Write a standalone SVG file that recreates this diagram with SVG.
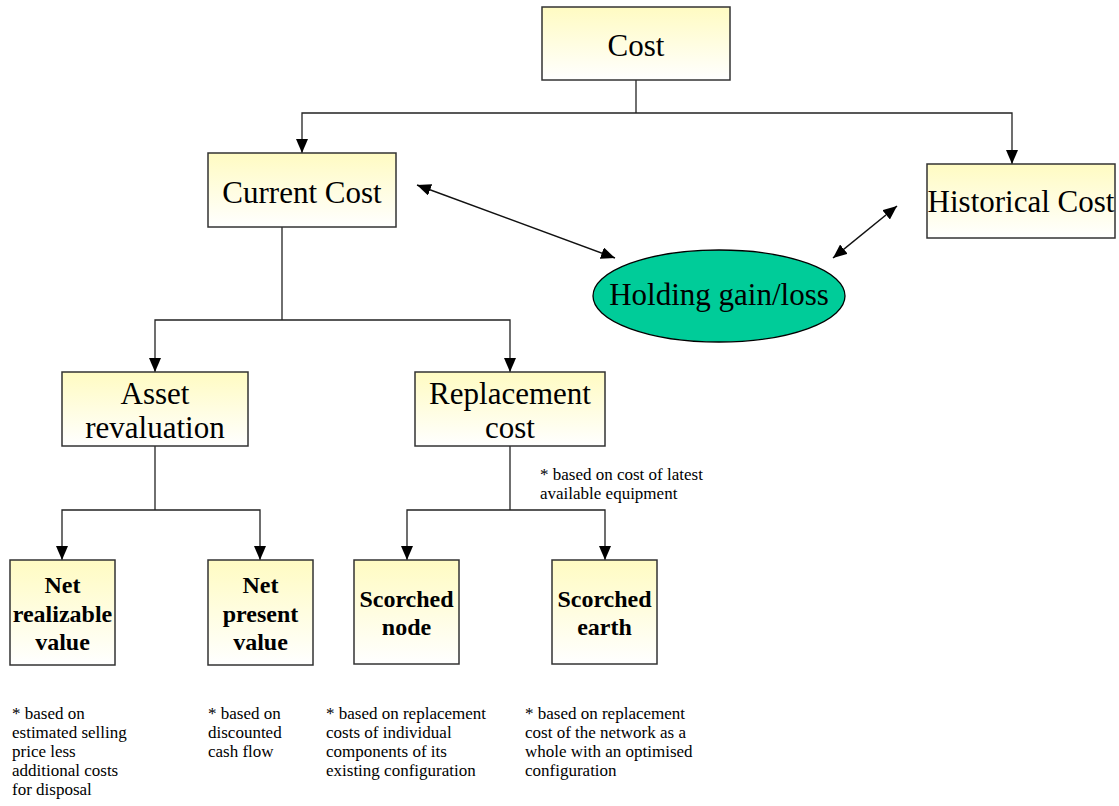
<svg xmlns="http://www.w3.org/2000/svg" width="1119" height="806" viewBox="0 0 1119 806">
<defs>
<linearGradient id="yg" x1="0" y1="0" x2="0" y2="1">
<stop offset="0" stop-color="#FFFBC2"/>
<stop offset="1" stop-color="#FFFFFF"/>
</linearGradient>
<marker id="ah" viewBox="0 0 14 12" refX="14" refY="6" markerWidth="14" markerHeight="12" markerUnits="userSpaceOnUse" orient="auto-start-reverse">
<path d="M0,0 L14,6 L0,12 z" fill="#000"/>
</marker>
<style>
.box{fill:url(#yg);stroke:#333;stroke-width:1.5}
.big{font-family:"Liberation Serif","Times New Roman",serif;font-size:31px;fill:#000;text-anchor:middle}
.bold{font-family:"Liberation Serif","Times New Roman",serif;font-size:24px;font-weight:bold;fill:#000;text-anchor:middle}
.note{font-family:"Liberation Serif","Times New Roman",serif;font-size:17px;fill:#000}
.ln{fill:none;stroke:#222;stroke-width:1.3}
.arr{fill:none;stroke:#222;stroke-width:1.3;marker-end:url(#ah)}
.darr{fill:none;stroke:#111;stroke-width:1.5;marker-start:url(#ah);marker-end:url(#ah)}
</style>
</defs>
<rect width="1119" height="806" fill="#fff"/>
<g id="connectors">
<path class="ln" d="M636,80 V113"/>
<path class="arr" d="M636,113 H302 V153"/>
<path class="arr" d="M636,113 H1012 V164"/>
<path class="ln" d="M282,227 V320"/>
<path class="arr" d="M282,320 H155 V372"/>
<path class="arr" d="M282,320 H510 V372"/>
<path class="ln" d="M155,446 V510"/>
<path class="arr" d="M155,510 H62 V560"/>
<path class="arr" d="M155,510 H260 V560"/>
<path class="ln" d="M510,446 V510"/>
<path class="arr" d="M510,510 H407 V560"/>
<path class="arr" d="M510,510 H605 V560"/>
<path class="darr" d="M417,185 L615,258"/>
<path class="darr" d="M833,258 L897,206"/>
</g>
<g id="cost">
<rect class="box" x="542" y="7" width="188" height="73"/>
<text class="big" x="636" y="56">Cost</text>
</g>
<g id="current-cost">
<rect class="box" x="208" y="153" width="188" height="74"/>
<text class="big" x="302" y="203">Current Cost</text>
</g>
<g id="historical-cost">
<rect class="box" x="927" y="164" width="188" height="74"/>
<text class="big" x="1021" y="212">Historical Cost</text>
</g>
<g id="holding">
<ellipse cx="719" cy="296" rx="126" ry="46" fill="#00CC99" stroke="#000" stroke-width="1.3"/>
<text class="big" x="719" y="305">Holding gain/loss</text>
</g>
<g id="asset-revaluation">
<rect class="box" x="62" y="372" width="186" height="74"/>
<text class="big" x="155" y="404">Asset</text>
<text class="big" x="155" y="438">revaluation</text>
</g>
<g id="replacement-cost">
<rect class="box" x="415" y="372" width="190" height="74"/>
<text class="big" x="510" y="404">Replacement</text>
<text class="big" x="510" y="438">cost</text>
</g>
<g id="replacement-note">
<text class="note" x="540" y="480">* based on cost of latest</text>
<text class="note" x="540" y="499">available equipment</text>
</g>
<g id="net-realizable">
<rect class="box" x="10" y="560" width="105" height="105"/>
<text class="bold" x="62.5" y="593">Net</text>
<text class="bold" x="62.5" y="622">realizable</text>
<text class="bold" x="62.5" y="650">value</text>
</g>
<g id="net-present">
<rect class="box" x="208" y="560" width="105" height="105"/>
<text class="bold" x="260.5" y="593">Net</text>
<text class="bold" x="260.5" y="622">present</text>
<text class="bold" x="260.5" y="650">value</text>
</g>
<g id="scorched-node">
<rect class="box" x="354" y="560" width="105" height="104"/>
<text class="bold" x="406.5" y="607">Scorched</text>
<text class="bold" x="406.5" y="635">node</text>
</g>
<g id="scorched-earth">
<rect class="box" x="552" y="560" width="105" height="104"/>
<text class="bold" x="604.5" y="607">Scorched</text>
<text class="bold" x="604.5" y="635">earth</text>
</g>
<g id="notes">
<text class="note" x="12" y="719">* based on</text>
<text class="note" x="12" y="738">estimated selling</text>
<text class="note" x="12" y="757">price less</text>
<text class="note" x="12" y="776">additional costs</text>
<text class="note" x="12" y="795">for disposal</text>
<text class="note" x="208" y="719">* based on</text>
<text class="note" x="208" y="738">discounted</text>
<text class="note" x="208" y="757">cash flow</text>
<text class="note" x="326" y="719">* based on replacement</text>
<text class="note" x="326" y="738">costs of individual</text>
<text class="note" x="326" y="757">components of its</text>
<text class="note" x="326" y="776">existing configuration</text>
<text class="note" x="525" y="719">* based on replacement</text>
<text class="note" x="525" y="738">cost of the network as a</text>
<text class="note" x="525" y="757">whole with an optimised</text>
<text class="note" x="525" y="776">configuration</text>
</g>
</svg>
